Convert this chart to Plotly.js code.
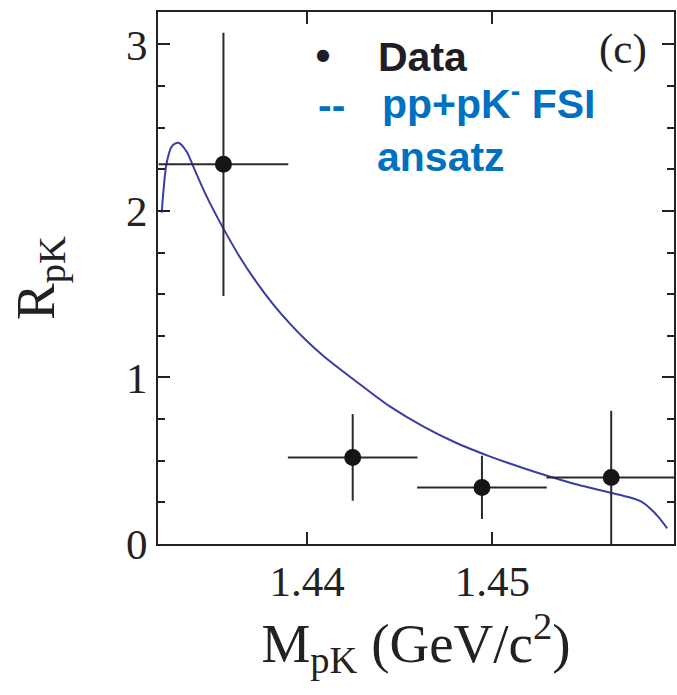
<!DOCTYPE html>
<html>
<head>
<meta charset="utf-8">
<script src="https://cdn.plot.ly/plotly-3.0.1.min.js"></script>
<style>html,body{margin:0;padding:0;background:#fff;}#chart{width:677px;height:695px;}</style>
</head>
<body>
<div id="chart"></div>
<script>
// ---- data ----
const massBins   = [1.43548, 1.44246, 1.44944, 1.45642];   // M_pK (GeV/c^2)
const ratioData  = [2.28, 0.52, 0.34, 0.40];               // R_pK
const ratioErr   = [0.79, 0.26, 0.19, 0.40];
const binHalfWid = [0.0035, 0.0035, 0.0035, 0.0035];

const curveMass  = [1.432146, 1.432416, 1.432703, 1.433043, 1.433497, 1.433854, 1.434578, 1.435422,
                    1.436378, 1.437281, 1.438178, 1.439081, 1.439984, 1.440881, 1.441784, 1.443135,
                    1.444486, 1.446286, 1.448092, 1.449892, 1.451692, 1.453135, 1.454578, 1.456000,
                    1.457281, 1.458000, 1.458541, 1.458989, 1.459443];
const curveRatio = [1.99, 2.29, 2.39, 2.41, 2.356, 2.266, 2.086, 1.906,
                    1.721, 1.570, 1.438, 1.322, 1.219, 1.129, 1.049, 0.935,
                    0.825, 0.705, 0.605, 0.525, 0.455, 0.404, 0.357, 0.318,
                    0.284, 0.257, 0.212, 0.160, 0.094];

const xTicks = [1.44, 1.45];
const xTickText = ['1.44', '1.45'];
const yTicks = [0, 1, 2, 3];
const yTickText = ['0', '1', '2', '3'];

// ---- layout helpers (pixel -> paper) ----
const W = 677, H = 695;
const M = {l: 158, r: 3, t: 12, b: 151};
const PW = W - M.l - M.r, PH = H - M.t - M.b;
const px = x => (x - M.l) / PW;
const py = y => (H - M.b - y) / PH;

const serif = 'Liberation Serif, Times New Roman, serif';
const sans = 'Liberation Sans, Arial, sans-serif';
const blue = '#0070c0';
const ink = '#1e1e24';

const traces = [
  {
    x: curveMass, y: curveRatio, type: 'scatter', mode: 'lines',
    line: {color: '#3c3ca8', width: 2, shape: 'spline', smoothing: 0.8},
    hoverinfo: 'skip', showlegend: false
  },
  {
    x: massBins, y: ratioData, type: 'scatter', mode: 'markers',
    marker: {color: '#151515', size: 17},
    error_y: {type: 'data', array: ratioErr, visible: true, color: '#2a2a2a', thickness: 2, width: 0},
    error_x: {type: 'data', array: binHalfWid, visible: true, color: '#2a2a2a', thickness: 2, width: 0},
    showlegend: false
  }
];

const layout = {
  width: W, height: H,
  margin: M,
  paper_bgcolor: '#fff', plot_bgcolor: '#fff',
  showlegend: false,
  xaxis: {
    range: [1.431946, 1.459811],
    tickvals: xTicks, ticktext: xTickText,
    ticks: 'inside', ticklen: 12, tickwidth: 2, tickcolor: '#222',
    showline: true, linewidth: 2, linecolor: '#222', mirror: 'ticks',
    showgrid: false, zeroline: false,
    tickfont: {family: serif, size: 43, color: '#222'},
    ticklabelstandoff: -2,
    title: {text: 'M<sub>pK</sub> (GeV/c<sup>2</sup>)', font: {family: serif, size: 55, color: '#222'}, standoff: 16}
  },
  yaxis: {
    range: [0, 3.195],
    tickvals: yTicks, ticktext: yTickText,
    ticks: 'inside', ticklen: 12, tickwidth: 2, tickcolor: '#222',
    minor: {dtick: 0.25, ticks: 'inside', ticklen: 7, tickwidth: 2, tickcolor: '#222', showgrid: false},
    showline: true, linewidth: 2, linecolor: '#222', mirror: 'ticks',
    showgrid: false, zeroline: false,
    tickfont: {family: serif, size: 43, color: '#222'},
    ticklabelstandoff: 0,
    title: {text: 'R<sub>pK</sub>', font: {family: serif, size: 55, color: '#222'}, standoff: 54}
  },
  annotations: [
    {xref: 'paper', yref: 'paper', x: px(323), y: py(54), text: '●', showarrow: false,
     xanchor: 'center', yanchor: 'middle', font: {family: 'DejaVu Sans', size: 16, color: ink}},
    {xref: 'paper', yref: 'paper', x: px(376), y: py(57), text: '<b>Data</b>', showarrow: false,
     xanchor: 'left', yanchor: 'middle', font: {family: sans, size: 41, color: ink}},
    {xref: 'paper', yref: 'paper', x: px(316), y: py(105), text: '<b>--</b>', showarrow: false,
     xanchor: 'left', yanchor: 'middle', font: {family: sans, size: 41, color: blue}},
    {xref: 'paper', yref: 'paper', x: px(380), y: py(101), text: '<b>pp+pK<sup>-</sup> FSI</b>', showarrow: false,
     xanchor: 'left', yanchor: 'middle', font: {family: sans, size: 41, color: blue}},
    {xref: 'paper', yref: 'paper', x: px(375), y: py(157), text: '<b>ansatz</b>', showarrow: false,
     xanchor: 'left', yanchor: 'middle', font: {family: sans, size: 41, color: blue}},
    {xref: 'paper', yref: 'paper', x: px(623), y: py(49), text: '(c)', showarrow: false,
     xanchor: 'center', yanchor: 'middle', font: {family: serif, size: 43, color: '#222'}}
  ]
};

Plotly.newPlot('chart', traces, layout, {displayModeBar: false, staticPlot: true});
</script>
</body>
</html>
